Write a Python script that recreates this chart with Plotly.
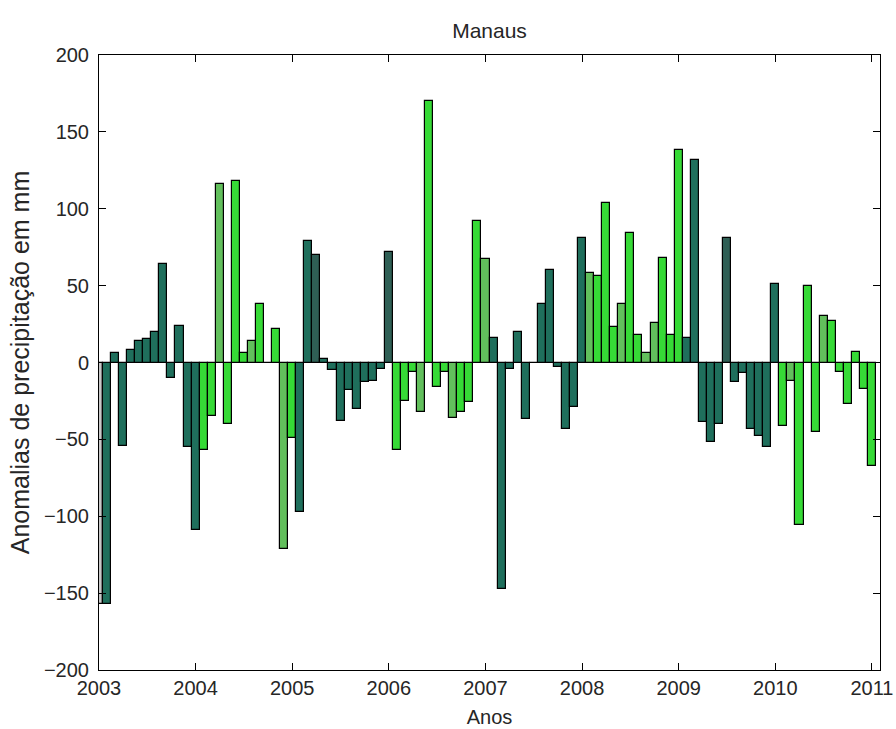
import plotly.graph_objects as go

# Monthly precipitation anomalies (mm), Manaus, Jan 2003 .. Jan 2011
months = [f"{y}-{m:02d}" for y in range(2003, 2012) for m in range(1, 13)][:97]
anomalies = [
    -157, -157, 6, -54, 8, 14, 15, 20, 64, -10, 24, -55,      # 2003
    -109, -57, -35, 116, -40, 118, 6, 14, 38, 0, 22, -121,    # 2004
    -49, -97, 79, 70, 2, -5, -38, -18, -30, -13, -12, -4,     # 2005
    72, -57, -25, -6, -32, 170, -16, -6, -36, -32, -26, 92,   # 2006
    67, 16, -147, -4, 20, -37, 0, 38, 60, -3, -43, -29,       # 2007
    81, 58, 56, 104, 23, 38, 84, 18, 6, 26, 68, 18,           # 2008
    138, 16, 132, -39, -52, -40, 81, -13, -7, -43, -48, -55,  # 2009
    51, -41, -12, -106, 50, -45, 30, 27, -6, -27, 7, -17,     # 2010
    -67,                                                       # 2011
]
color_class = (
    ["X"] + ["D"] * 12
    + ["G", "G", "L", "G", "G", "G", "L", "G", "G", "G", "L", "G"]
    + ["D", "D", "S", "D", "D", "D", "D", "D", "D", "D", "D", "S"]
    + ["G", "G", "G", "L", "G", "G", "G", "L", "G", "G", "G", "L"]
    + ["D"] * 12
    + ["L", "G", "G", "G", "L", "G", "G", "L", "L", "G", "G", "G"]
    + ["D", "D", "D", "D", "D", "S", "D", "D", "D", "D", "D", "D"]
    + ["G", "L", "G", "G", "G", "L", "G", "G", "G", "G", "G", "G"]
)
palette = {"D": "#1f6f5c", "S": "#2f5f55", "G": "#36da36", "L": "#62bf5c", "X": "#c8c8c8"}
year_ticks = list(range(2003, 2012))

x = [int(s[:4]) + (int(s[5:]) - 1) / 12 for s in months]
colors = [palette[c] for c in color_class]

font = "Liberation Sans, Arial, sans-serif"
txt = "#262626"

fig = go.Figure(
    go.Bar(
        x=x,
        y=anomalies,
        width=1 / 12,
        marker=dict(color=colors, line=dict(color="#000000", width=1.2)),
    )
)

fig.update_layout(
    width=896,
    height=729,
    paper_bgcolor="white",
    plot_bgcolor="white",
    margin=dict(l=99, r=16, t=55, b=59),
    showlegend=False,
    font=dict(family=font, size=20, color=txt),
    title=dict(
        text="Manaus",
        x=0.5,
        xref="paper",
        y=1,
        yref="paper",
        yanchor="bottom",
        pad=dict(b=17),
        font=dict(family=font, size=21, color=txt),
        automargin=False,
    ),
    bargap=0,
)

fig.update_xaxes(
    range=[2003, 2011 + 1 / 12],
    tickvals=year_ticks,
    ticktext=[str(y) for y in year_ticks],
    ticks="inside",
    ticklen=7,
    tickcolor="#000000",
    showline=True,
    linecolor="#000000",
    linewidth=1,
    mirror="allticks",
    showgrid=False,
    zeroline=False,
    automargin=False,
    tickfont=dict(family=font, size=20, color=txt),
    title=dict(text="Anos", standoff=11, font=dict(family=font, size=20, color=txt)),
)
fig.update_yaxes(
    range=[-200, 200],
    tickvals=list(range(-200, 201, 50)),
    ticks="inside",
    ticklen=7,
    tickcolor="#000000",
    showline=True,
    linecolor="#000000",
    linewidth=1,
    mirror="allticks",
    showgrid=False,
    zeroline=True,
    zerolinecolor="#000000",
    zerolinewidth=1,
    automargin=False,
    ticklabelstandoff=5,
    tickfont=dict(family=font, size=20, color=txt),
    title=dict(text="Anomalias de precipitação em mm", standoff=7,
               font=dict(family=font, size=25, color=txt)),
)

fig.write_html("out.html")
